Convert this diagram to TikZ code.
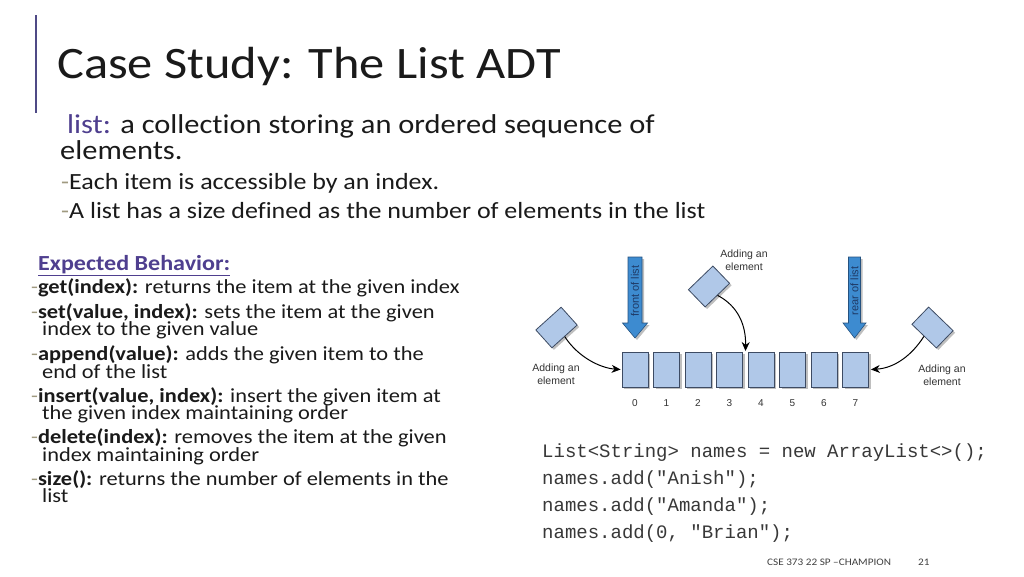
\documentclass[tikz,border=0pt]{standalone}
\usepackage{fontspec}
\setmainfont{Carlito}[FakeStretch=1.12, Ligatures={NoCommon}]
\newfontfamily\arialf{Liberation Sans}
\newfontfamily\monof{Liberation Mono}
\usetikzlibrary{shadows,arrows.meta}
\definecolor{purp}{HTML}{4F3F8F}
\definecolor{vline}{HTML}{4F4A86}
\definecolor{dashc}{HTML}{A09A80}
\definecolor{cellfill}{HTML}{B0C8E8}
\definecolor{cellborder}{HTML}{3D4B63}
\definecolor{arrfill}{HTML}{3D8BD0}
\definecolor{arrborder}{HTML}{25527F}
\definecolor{arrtext}{HTML}{1F3A66}
\definecolor{bodyc}{HTML}{1A1A1A}
\definecolor{codec}{HTML}{383838}
\definecolor{footc}{HTML}{404040}
\tikzset{
  txt/.style={anchor=base west, inner sep=0pt, text=bodyc},
  titlef/.style={txt, font=\fontsize{45}{50}\selectfont},
  bodyf/.style={txt, font=\fontsize{27.2}{30}\selectfont},
  subf/.style={txt, font=\fontsize{23.2}{26}\selectfont},
  itemf/.style={txt, font=\fontsize{20}{21}\selectfont},
  codef/.style={txt, text=codec, font=\monof\fontsize{19}{22}\selectfont},
  footf/.style={txt, text=footc, font=\fontsize{10}{12}\selectfont},
  shad/.style={drop shadow={shadow xshift=2pt, shadow yshift=-2pt, fill=black, opacity=0.25}},
  cell/.style={draw=cellborder, fill=cellfill, line width=0.8pt, minimum width=26pt, minimum height=35pt, inner sep=0pt, shad},
  elem/.style={draw=cellborder, fill=cellfill, line width=0.8pt, minimum width=34pt, minimum height=24pt, inner sep=0pt, shad},
  idx/.style={inner sep=0pt, text=black!80, font=\arialf\fontsize{10}{11}\selectfont},
  lab/.style={inner sep=0pt, align=center, text=black!80, font=\arialf\fontsize{10.5}{13}\selectfont},
  fat/.style={fill=arrfill, draw=arrborder, line width=0.6pt, shad},
  fattext/.style={inner sep=0pt, rotate=90, text=arrtext, font=\arialf\fontsize{11}{12}\selectfont},
  conn/.style={line width=1pt, -{Stealth[length=9pt,width=8pt]}}
}
\newcommand{\dsh}{\textcolor{dashc}{-}}
\begin{document}
\begin{tikzpicture}[x=1pt,y=-1pt]
\useasboundingbox (0,0) rectangle (1024,576);
\fill[white] (0,0) rectangle (1024,576);

% title bar
\draw[line width=2pt, vline] (36,15) -- (36,113);
\node[titlef] (title) at (57,78) {Case Study: The List ADT};

% definition
\node[bodyf] (l1) at (67,133) {\textcolor{purp}{list:} a collection storing an ordered sequence of};
\node[bodyf] (l2) at (60,159) {elements.};
\node[subf] (s1) at (61,189) {\dsh Each item is accessible by an index.};
\node[subf] (s2) at (61,218) {\dsh A list has a size defined as the number of elements in the list};

% expected behavior
\node[txt, text=purp, font=\bfseries\fontsize{21.5}{24}\selectfont] (eb) at (38,270) {\underline{Expected Behavior:}};
\node[itemf] (i1) at (31,293) {\dsh\textbf{get(index):} returns the item at the given index};
\node[itemf] (i2) at (31,318) {\dsh\textbf{set(value, index):} sets the item at the given};
\node[itemf] (i2b) at (42,335) {index to the given value};
\node[itemf] (i3) at (31,360) {\dsh\textbf{append(value):} adds the given item to the};
\node[itemf] (i3b) at (42,378) {end of the list};
\node[itemf] (i4) at (31,402) {\dsh\textbf{insert(value, index):} insert the given item at};
\node[itemf] (i4b) at (42,419) {the given index maintaining order};
\node[itemf] (i5) at (31,443) {\dsh\textbf{delete(index):} removes the item at the given};
\node[itemf] (i5b) at (42,461) {index maintaining order};
\node[itemf] (i6) at (31,485) {\dsh\textbf{size():} returns the number of elements in the};
\node[itemf] (i6b) at (42,502) {list};

% list cells
\foreach \i in {0,...,7} {
  \node[cell] (b\i) at (635+31.5*\i, 369.5) {};
  \node[idx] (n\i) at (635+31.5*\i, 403) {\i};
}

% fat arrows
\draw[fat] (628,257) -- (642,257) -- (642,323) -- (647.5,323) -- (635,338) -- (622.5,323) -- (628,323) -- cycle;
\node[fattext] (front) at (635,291) {front of list};
\draw[fat] (848.5,257) -- (860.5,257) -- (860.5,323) -- (866,323) -- (854.5,338) -- (843,323) -- (848.5,323) -- cycle;
\node[fattext] (rear) at (854.5,291) {rear of list};

% elements being added
\node[elem, rotate=42] (e1) at (556.5,327.5) {};
\node[elem, rotate=44] (e2) at (709,286.5) {};
\node[elem, rotate=-44] (e3) at (932.5,327.5) {};

\node[lab] (t1) at (556,374) {Adding an\\element};
\node[lab] (t2) at (744,260) {Adding an\\element};
\node[lab] (t3) at (942,375) {Adding an\\element};

\coordinate (ins) at (745.5,351);
\draw[conn] (e1.south) .. controls (578,357) and (600,368) .. ([xshift=-1pt]b0.west);
\draw[conn] (e2.south) .. controls (738,306) and (746,325) .. (ins);
\draw[conn] (e3.south) .. controls (912,355) and (895,368) .. ([xshift=2pt]b7.east);

% code
\node[codef] (c1) at (542,457) {List<String> names = new ArrayList<>();};
\node[codef] (c2) at (542,484) {names.add("Anish");};
\node[codef] (c3) at (542,511) {names.add("Amanda");};
\node[codef] (c4) at (542,538) {names.add(0, "Brian");};

% footer
\node[footf] (foot) at (767,565) {CSE 373 22 SP –CHAMPION};
\node[footf] (page) at (918,565) {21};
\end{tikzpicture}
\end{document}
